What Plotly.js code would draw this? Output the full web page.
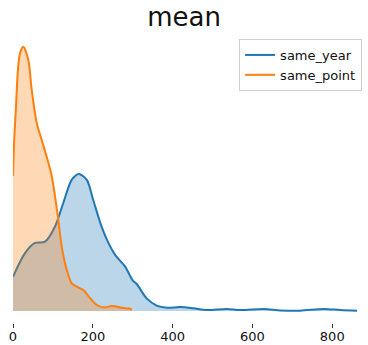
<!DOCTYPE html>
<html>
<head>
<meta charset="utf-8">
<script src="https://cdn.plot.ly/plotly-3.0.1.min.js"></script>
<style>html,body{margin:0;padding:0;background:#fff;}#chart{width:368px;height:345px;}</style>
</head>
<body>
<div id="chart"></div>
<script>
// KDE curves (density, arbitrary units x1e-3)
var sameYearX = [0, 30, 55, 80, 105, 126, 147, 165, 185, 201, 222, 239, 256, 281, 300, 310, 335, 360, 386, 419, 452, 486, 536, 570, 628, 670, 720, 779, 820, 862];
var sameYearY = [1.14, 1.93, 2.27, 2.31, 2.81, 3.60, 4.37, 4.57, 4.37, 3.70, 2.81, 2.27, 1.87, 1.48, 1.02, 0.90, 0.42, 0.18, 0.11, 0.13, 0.09, 0.03, 0.07, 0.03, 0.07, 0.02, 0.01, 0.07, 0.03, 0.01];
var samePointX = [0, 3, 7.5, 11.8, 17.6, 25.8, 38.4, 46.9, 59.5, 72, 84.6, 97.1, 105.4, 113.7, 122.2, 134.8, 147.3, 159.8, 176.4, 193.2, 210, 230.9, 247.7, 268.5, 289.3, 298];
var samePointY = [4.5, 5.7, 6.8, 7.93, 8.6, 8.81, 8.37, 7.37, 6.27, 5.7, 5.13, 4.5, 3.81, 3.03, 2.14, 1.37, 0.92, 0.81, 0.70, 0.43, 0.20, 0.12, 0.17, 0.12, 0.08, 0.05];
var seriesNames = ['same_year', 'same_point'];
var seriesColors = ['#1f77b4', '#ff7f0e'];
var tickVals = [0, 200, 400, 600, 800];
var tickText = ['0', '200', '400', '600', '800'];

var traces = [
  {x: sameYearX, y: sameYearY, name: seriesNames[0], type: 'scatter', mode: 'lines', showlegend: false,
   line: {color: seriesColors[0], width: 2, shape: 'spline', smoothing: 0.8},
   fill: 'tozeroy', fillcolor: 'rgba(31,119,180,0.3)'},
  {x: samePointX, y: samePointY, name: seriesNames[1], type: 'scatter', mode: 'lines', showlegend: false,
   line: {color: seriesColors[1], width: 2, shape: 'spline', smoothing: 0.8},
   fill: 'tozeroy', fillcolor: 'rgba(255,127,14,0.3)'},
  // legend entries (line only, as in the reference)
  {x: [null], y: [null], name: seriesNames[0], type: 'scatter', mode: 'lines',
   line: {color: seriesColors[0], width: 2}},
  {x: [null], y: [null], name: seriesNames[1], type: 'scatter', mode: 'lines',
   line: {color: seriesColors[1], width: 2}}
];

var layout = {
  width: 368, height: 345,
  margin: {l: 13, r: 11, t: 34, b: 22, autoexpand: false},
  paper_bgcolor: '#fff', plot_bgcolor: '#fff',
  font: {family: 'DejaVu Sans', color: '#000'},
  title: {text: 'mean', font: {family: 'DejaVu Sans', size: 26, color: '#111'},
          x: 0.5, xanchor: 'center', y: 0.95, yanchor: 'middle', yref: 'container'},
  xaxis: {range: [0, 862], showgrid: false, zeroline: false, showline: false,
          ticks: 'outside', ticklen: 4, tickwidth: 1, tickcolor: '#333', ticklabelstandoff: -3,
          tickvals: tickVals, ticktext: tickText, tickfont: {size: 13, color: '#111'}},
  yaxis: {range: [-0.4, 9.233], visible: false, showgrid: false, zeroline: false},
  showlegend: true,
  legend: {x: 0.984, xref: 'container', xanchor: 'right', y: 0.887, yref: 'container', yanchor: 'top',
           bgcolor: 'rgba(255,255,255,0.8)', bordercolor: '#d0d0d0', borderwidth: 1,
           font: {size: 13, color: '#111'}, itemwidth: 30, tracegroupgap: 0}
};

Plotly.newPlot('chart', traces, layout, {displayModeBar: false, staticPlot: true});
</script>
</body>
</html>
